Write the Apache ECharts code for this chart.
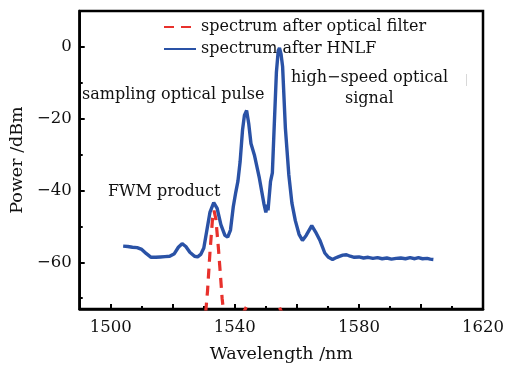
<!DOCTYPE html>
<html>
<head>
<meta charset="utf-8">
<script src="https://cdn.jsdelivr.net/npm/echarts@6/dist/echarts.min.js"></script>
<style>
  html, body { margin: 0; padding: 0; background: #fff; }
  #chart { width: 507px; height: 368px; }
</style>
</head>
<body>
<div id="chart"></div>
<script>
// values
const hnlfWavelength = [1504.0, 1505.5, 1507, 1508.5, 1510, 1511.5, 1513, 1514.5, 1516, 1517.5, 1519, 1520.5, 1521.8, 1523, 1524.2, 1525.5, 1527, 1528, 1529, 1530, 1531, 1532, 1533.2, 1534.3, 1535.5, 1536.8, 1537.7, 1538.6, 1539.5, 1540.3, 1541, 1541.7, 1542.5, 1543.1, 1543.8, 1544.5, 1545.2, 1546.3, 1547.9, 1549.4, 1550.0, 1550.4, 1550.7, 1551.1, 1551.5, 1552.1, 1552.7, 1553.4, 1554.0, 1554.4, 1554.9, 1555.4, 1556.3, 1557.4, 1558.4, 1559.5, 1560.7, 1561.8, 1563, 1564.8, 1566, 1567.5, 1569, 1570.2, 1571.5, 1572.4, 1573.5, 1574.8, 1576, 1577.2, 1578.5, 1580, 1581.5, 1583, 1584.5, 1586, 1587.5, 1589, 1590.5, 1592, 1593.5, 1595, 1596.5, 1598, 1599.2, 1600.5, 1602, 1603, 1604];
const hnlfPower = [-55.5, -55.6, -55.8, -55.9, -56.4, -57.6, -58.6, -58.6, -58.5, -58.4, -58.3, -57.6, -55.8, -54.8, -55.6, -57.2, -58.3, -58.5, -57.8, -56.0, -51.0, -46.0, -43.4, -45.0, -49.5, -52.5, -53.0, -51.0, -44.5, -40.5, -37.4, -32.0, -23.0, -19.0, -17.7, -21.5, -26.9, -30.1, -36.5, -43.8, -46.1, -44.0, -45.5, -46.0, -37.5, -35.1, -22.0, -7.1, -1.0, -0.3, -2.0, -5.5, -22.7, -35.6, -43.5, -48.4, -52.2, -53.9, -52.5, -49.8, -51.5, -54.0, -57.4, -58.6, -59.2, -58.8, -58.4, -58.0, -57.9, -58.3, -58.6, -58.5, -58.8, -58.6, -58.9, -58.7, -59.0, -58.8, -59.1, -58.9, -58.8, -59.0, -58.7, -59.0, -58.7, -59.0, -58.9, -59.1, -59.2];

const filterWavelength = [1530.6, 1531.2, 1532.0, 1532.8, 1533.3, 1533.9, 1534.7, 1535.4, 1535.9, 1536.4, 1542.8, 1543.7, 1544.6, 1553.4, 1554.3, 1555.2, 1560];
const filterPower = [-74, -68, -57, -48, -45.6, -48, -56, -64, -70, -74, -74, -72.4, -74, -74, -72.4, -74, -74];

const xLabels = [1500, 1540, 1580, 1620];
const xMajorTicks = [1500, 1520, 1540, 1560, 1580, 1600, 1620];
const yLabels = [0, -20, -40, -60];
const yMinorTicks = [-70, -50, -30, -10];

const seriesNames = ['spectrum after optical filter', 'spectrum after HNLF'];

const FONT = 'DejaVu Serif';
const INK = '#111';
const fmt = v => String(v).replace('-', '\u2212');

function pairs(xs, ys) {
  return xs.map((x, i) => [x, ys[i]]);
}

const chart = echarts.init(document.getElementById('chart'));

chart.setOption({
  animation: false,
  grid: {
    left: 78, right: 20, top: 11, bottom: 55,
    show: true, borderColor: '#000', borderWidth: 2.5, backgroundColor: 'transparent'
  },
  legend: {
    orient: 'vertical',
    left: 158, top: 14,
    itemWidth: 32, itemHeight: 10, itemGap: 6,
    data: seriesNames,
    itemStyle: { opacity: 0 },
    textStyle: { fontFamily: FONT, fontSize: 16, color: INK }
  },
  xAxis: [{
    type: 'value', min: 1490, max: 1620, position: 'bottom',
    name: 'Wavelength /nm', nameLocation: 'middle', nameGap: 36,
    nameTextStyle: { fontFamily: FONT, fontSize: 17.5, color: INK },
    axisLine: { onZero: false, lineStyle: { color: '#000', width: 2.5 } },
    axisTick: { inside: true, length: 5, customValues: xMajorTicks, lineStyle: { color: '#000', width: 2 } },
    axisLabel: { customValues: xLabels, formatter: fmt, margin: 10, fontFamily: FONT, fontSize: 16.5, color: INK },
    splitLine: { show: false }
  }, {
    type: 'value', min: 1490, max: 1620, interval: 10, position: 'bottom',
    axisLine: { show: false, onZero: false },
    axisTick: { inside: true, length: 3, lineStyle: { color: '#000', width: 2 } },
    axisLabel: { show: false },
    splitLine: { show: false }
  }],
  yAxis: [{
    type: 'value', min: -73, max: 10, position: 'left',
    name: 'Power /dBm', nameLocation: 'middle', nameGap: 49,
    nameTextStyle: { fontFamily: FONT, fontSize: 17.5, color: INK },
    axisLine: { onZero: false, lineStyle: { color: '#000', width: 2.5 } },
    axisTick: { inside: true, length: 5, customValues: yLabels, lineStyle: { color: '#000', width: 2 } },
    axisLabel: { customValues: yLabels, formatter: fmt, margin: 8, fontFamily: FONT, fontSize: 16.5, color: INK },
    splitLine: { show: false }
  }, {
    type: 'value', min: -73, max: 10, position: 'left',
    axisLine: { show: false, onZero: false },
    axisTick: { inside: true, length: 3, customValues: yMinorTicks, lineStyle: { color: '#000', width: 2 } },
    axisLabel: { show: false },
    splitLine: { show: false }
  }],
  series: [{
    name: seriesNames[0],
    type: 'line',
    symbol: 'none',
    data: pairs(filterWavelength, filterPower),
    lineStyle: { color: '#e8312c', width: 3.2, type: [10, 7] },
    itemStyle: { color: '#e8312c' },
    z: 3
  }, {
    name: seriesNames[1],
    type: 'line',
    symbol: 'none',
    data: pairs(hnlfWavelength, hnlfPower),
    lineStyle: { color: '#2a52a6', width: 3.4 },
    itemStyle: { color: '#2a52a6' },
    z: 4
  }],
  graphic: [
    { type: 'text', left: 82, top: 87, style: { text: 'sampling optical pulse', fontFamily: FONT, fontSize: 16, fill: INK } },
    { type: 'text', left: 108, top: 184, style: { text: 'FWM product', fontFamily: FONT, fontSize: 16, fill: INK } },
    { type: 'text', left: 291, top: 70, style: { text: 'high\u2212speed optical', fontFamily: FONT, fontSize: 16, fill: INK } },
    { type: 'text', left: 345, top: 91, style: { text: 'signal', fontFamily: FONT, fontSize: 16, fill: INK } },
    { type: 'rect', left: 466, top: 74, shape: { width: 1, height: 12 }, style: { fill: '#d8d8d8' } }
  ]
});
</script>
</body>
</html>
